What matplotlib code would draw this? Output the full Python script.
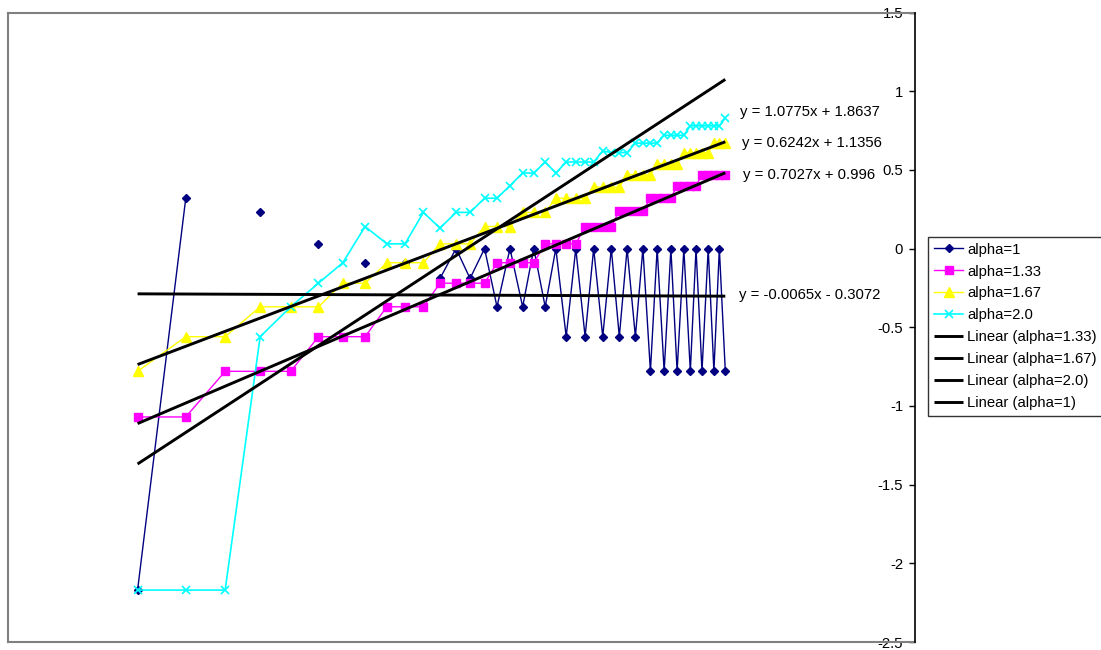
import numpy as np
import matplotlib
matplotlib.use("Agg")
import matplotlib.pyplot as plt

plt.rcParams['font.family'] = ['Liberation Sans', 'DejaVu Sans']

nan = np.nan

# shared x positions (log scale values)
x_vals = [-3.000, -2.814, -2.662, -2.527, -2.409, -2.302, -2.208, -2.122, -2.038, -1.968,
          -1.897, -1.833, -1.771, -1.717, -1.661, -1.613, -1.563, -1.514, -1.471, -1.427,
          -1.386, -1.346, -1.309, -1.273, -1.240, -1.205, -1.172, -1.141, -1.111, -1.079,
          -1.050, -1.021, -0.995, -0.968, -0.942, -0.918, -0.892, -0.867, -0.845, -0.822,
          -0.798, -0.776, -0.755, -0.732]

alpha_1 = [-2.17, 0.32, nan, 0.23, nan, 0.03, nan, -0.09, nan, -0.09,
           nan, -0.19, 0.0, -0.19, 0.0, -0.37, 0.0, -0.37, 0.0, -0.37,
           0.0, -0.56, 0.0, -0.56, 0.0, -0.56, 0.0, -0.56, 0.0, -0.56,
           0.0, -0.78, 0.0, -0.78, 0.0, -0.78, 0.0, -0.78, 0.0, -0.78,
           0.0, -0.78, 0.0, -0.78]

alpha_133 = [-1.07, -1.07, -0.78, -0.78, -0.78, -0.56, -0.56, -0.56, -0.37, -0.37,
             -0.37, -0.22, -0.22, -0.22, -0.22, -0.09, -0.09, -0.09, -0.09, 0.03,
             0.03, 0.03, 0.03, 0.14, 0.14, 0.14, 0.14, 0.24, 0.24, 0.24,
             0.24, 0.32, 0.32, 0.32, 0.32, 0.40, 0.40, 0.40, 0.40, 0.47,
             0.47, 0.47, 0.47, 0.47]

alpha_167 = [-0.78, -0.56, -0.56, -0.37, -0.37, -0.37, -0.22, -0.22, -0.09, -0.09,
             -0.09, 0.03, 0.03, 0.03, 0.14, 0.14, 0.14, 0.23, 0.23, 0.23,
             0.32, 0.32, 0.32, 0.32, 0.39, 0.39, 0.39, 0.39, 0.47, 0.47,
             0.47, 0.47, 0.54, 0.54, 0.54, 0.54, 0.61, 0.61, 0.61, 0.61,
             0.61, 0.67, 0.67, 0.67]

alpha_20 = [-2.17, -2.17, -2.17, -0.56, -0.37, -0.22, -0.09, 0.14, 0.03, 0.03,
            0.23, 0.13, 0.23, 0.23, 0.32, 0.32, 0.40, 0.48, 0.48, 0.55,
            0.48, 0.55, 0.55, 0.55, 0.55, 0.62, 0.61, 0.61, 0.61, 0.67,
            0.67, 0.67, 0.67, 0.72, 0.72, 0.72, 0.72, 0.78, 0.78, 0.78,
            0.78, 0.78, 0.78, 0.83]

series_labels = ["alpha=1", "alpha=1.33", "alpha=1.67", "alpha=2.0"]

# linear trend coefficients (slope, intercept) as printed on the chart
trend_slope = {"alpha=1": -0.0065, "alpha=1.33": 0.7027, "alpha=1.67": 0.6242, "alpha=2.0": 1.0775}
trend_icept = {"alpha=1": -0.3072, "alpha=1.33": 0.996, "alpha=1.67": 1.1356, "alpha=2.0": 1.8637}
trend_order = ["alpha=1.33", "alpha=1.67", "alpha=2.0", "alpha=1"]

W, H = 1101, 650
fig = plt.figure(figsize=(W / 100, H / 100), dpi=100)
ax = fig.add_axes([8 / W, 1 - 642 / H, (915 - 8) / W, (642 - 12.5) / H])

x = np.array(x_vals)
data = {"alpha=1": alpha_1, "alpha=1.33": alpha_133, "alpha=1.67": alpha_167, "alpha=2.0": alpha_20}
styles = {
    "alpha=1": dict(color="#000080", marker="D", ms=4.5, lw=1.0),
    "alpha=1.33": dict(color="#FF00FF", marker="s", ms=6.2, lw=1.0),
    "alpha=1.67": dict(color="#FFFF00", marker="^", ms=7.0, lw=1.0),
    "alpha=2.0": dict(color="#00FFFF", marker="x", ms=6.0, lw=1.2, mew=1.2),
}

handles = []
for name in series_labels:
    st = styles[name]
    y = np.array(data[name], dtype=float)
    ln, = ax.plot(x, y, color=st["color"], lw=st["lw"], marker=st["marker"],
                  ms=st["ms"], mfc=st["color"], mec=st["color"],
                  mew=st.get("mew", 1.0), zorder=2, label=name)
    handles.append(ln)

eq_pos = {"alpha=2.0": (-0.675, 0.870), "alpha=1.67": (-0.669, 0.670),
          "alpha=1.33": (-0.662, 0.469), "alpha=1": (-0.678, -0.297)}

for name in trend_order:
    y = np.array(data[name], dtype=float)
    ok = ~np.isnan(y)
    xs = np.array([x[ok].min(), x[ok].max()])
    m, b = trend_slope[name], trend_icept[name]
    ln, = ax.plot(xs, m * xs + b, color="black", lw=2.1, zorder=3,
                  solid_capstyle="butt", label=f"Linear ({name})")
    handles.append(ln)
    sign = "+" if b >= 0 else "-"
    txt = f"y = {m:g}x {sign} {abs(b):g}"
    tx, ty = eq_pos[name]
    ax.text(tx, ty, txt, fontsize=10.7, va="center", ha="left", zorder=4)

ax.set_xlim(-3.5, 0)
ax.set_ylim(-2.5, 1.5)
ax.set_yticks([-2.5, -2, -1.5, -1, -0.5, 0, 0.5, 1, 1.5])
ax.set_yticklabels(["-2.5", "-2", "-1.5", "-1", "-0.5", "0", "0.5", "1", "1.5"])
ax.set_xticks([])
ax.yaxis.tick_right()
ax.tick_params(axis="y", direction="in", length=4, width=1, pad=-8.5,
               labelsize=10.7, colors="black")
for lab in ax.get_yticklabels():
    lab.set_horizontalalignment("right")

for side in ("left", "top", "bottom"):
    ax.spines[side].set_color("#808080")
    ax.spines[side].set_linewidth(1.5)
ax.spines["right"].set_color("black")
ax.spines["right"].set_linewidth(1.2)
ax.spines["right"].set_zorder(5)

leg = fig.legend(handles=handles, loc="upper left",
                 bbox_to_anchor=(927.7 / W, 1 - 236.7 / H),
                 bbox_transform=fig.transFigure,
                 fontsize=10.7, frameon=True, fancybox=False, shadow=False,
                 borderaxespad=0, borderpad=0.4, handlelength=2.0,
                 handletextpad=0.25, labelspacing=0.53)
leg.get_frame().set_edgecolor("black")
leg.get_frame().set_linewidth(1.0)

fig.savefig("out.png", dpi=100)
